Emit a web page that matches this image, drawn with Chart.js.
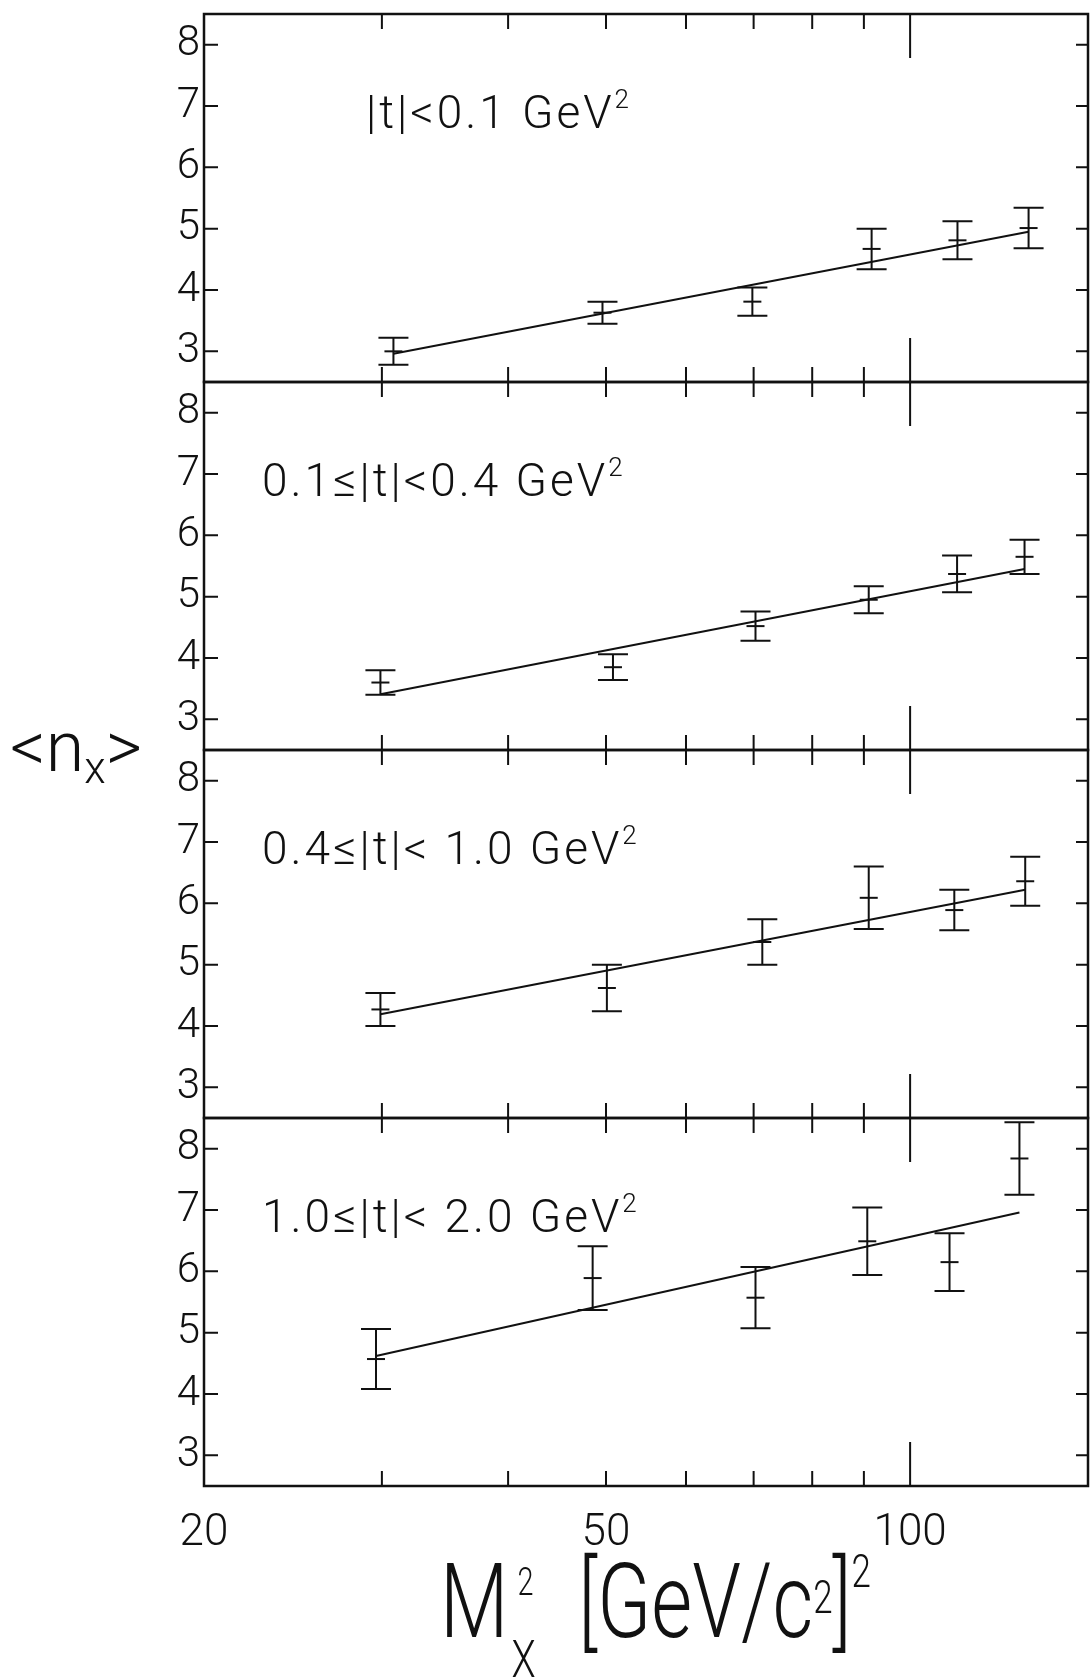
<!DOCTYPE html>
<html>
<head>
<meta charset="utf-8">
<script src="https://cdn.jsdelivr.net/npm/chart.js@4.4.0/dist/chart.umd.min.js"></script>
<style>
  body { margin: 0; background: #fff; }
  #page {
    position: relative;
    width: 1090px;
    height: 1679px;
    overflow: hidden;
    background: #fff;
    color: #111;
    font-family: Roboto, "DejaVu Sans", sans-serif;
    font-weight: 300;
  }
  .panel { position: absolute; left: 0; }
  .t-label {
    position: absolute;
    font-size: 46px;
    line-height: 46px;
    letter-spacing: 3px;
    white-space: nowrap;
  }
  .t-label .sq { position: relative; top: -20px; font-size: 26px; letter-spacing: 0; }
  #y-title {
    position: absolute;
    left: 10px;
    top: 712px;
    font-size: 70px;
    line-height: 70px;
    white-space: nowrap;
  }
  #y-title .sub { position: relative; top: 12px; font-size: 44px; }
  #x-title {
    position: absolute;
    left: 440px;
    top: 1550px;
    font-size: 104px;
    line-height: 104px;
    white-space: nowrap;
    transform: scaleX(0.76);
    transform-origin: left top;
  }
  #x-title .ms { display: inline-block; position: relative; width: 92px; height: 0; }
  #x-title .s2 { position: absolute; left: 12px; top: -74px; font-size: 38px; line-height: 38px; }
  #x-title .sx { position: absolute; left: 4px; top: -3px; font-size: 52px; line-height: 52px; }
  #x-title .c2 { position: relative; top: -24px; font-size: 46px; }
  #x-title .o2 { position: relative; top: -50px; font-size: 46px; }
</style>
</head>
<body>
<div id="page">
  <canvas id="panel-0" class="panel" width="1090" height="392"></canvas>
  <canvas id="panel-1" class="panel" width="1090" height="392"></canvas>
  <canvas id="panel-2" class="panel" width="1090" height="392"></canvas>
  <canvas id="panel-3" class="panel" width="1090" height="468"></canvas>
  <div id="y-title">&lt;n<span class="sub">x</span>&gt;</div>
  <div id="x-title">M<span class="ms"><span class="s2">2</span><span class="sx">X</span></span>[GeV/c<span class="c2">2</span>]<span class="o2">2</span></div>
</div>
<script>
// axis ranges and ticks (shared by all four |t| bins)
const xRange = [20, 150];
const yRange = [2.5, 8.5];
const yTickValues = [3, 4, 5, 6, 7, 8];
const xMinorTicks = [30, 40, 50, 60, 70, 80, 90];
const xMajorTicks = [100];
const xTickLabels = [20, 50, 100];

// |t| bin labels
const binLabels = ["|t|<0.1", "0.1≤|t|<0.4", "0.4≤|t|< 1.0", "1.0≤|t|< 2.0"];

// |t| < 0.1
const massT1 = [30.8, 49.6, 69.8, 91.6, 111.4, 131];
const multT1 = [3.0, 3.63, 3.81, 4.67, 4.81, 5.01];
const errT1 = [0.22, 0.18, 0.23, 0.33, 0.31, 0.33];
const fitT1 = [2.96, 4.95];

// 0.1 <= |t| < 0.4
const massT2 = [29.9, 50.8, 70.3, 91.0, 111.3, 129.8];
const multT2 = [3.6, 3.85, 4.52, 4.95, 5.37, 5.65];
const errT2 = [0.2, 0.21, 0.24, 0.22, 0.3, 0.28];
const fitT2 = [3.41, 5.45];

// 0.4 <= |t| < 1.0
const massT3 = [29.9, 50.1, 71.4, 91.0, 110.6, 130];
const multT3 = [4.27, 4.62, 5.37, 6.09, 5.89, 6.36];
const errT3 = [0.27, 0.38, 0.37, 0.51, 0.33, 0.4];
const fitT3 = [4.19, 6.22];

// 1.0 <= |t| < 2.0
const massT4 = [29.6, 48.5, 70.3, 90.7, 109.4, 128.3];
const multT4 = [4.57, 5.89, 5.57, 6.49, 6.15, 7.84];
const errT4 = [0.49, 0.52, 0.5, 0.55, 0.47, 0.59];
const fitT4 = [4.62, 6.96];

const panels = [
  { mass: massT1, mult: multT1, err: errT1, fit: fitT1, labelX: 366 },
  { mass: massT2, mult: multT2, err: errT2, fit: fitT2, labelX: 262 },
  { mass: massT3, mult: multT3, err: errT3, fit: fitT3, labelX: 262 },
  { mass: massT4, mult: multT4, err: errT4, fit: fitT4, labelX: 262 },
];

const INK = "#111";
const PANEL_TOP = 14;
const PANEL_H = 368;
const PAD = 12;

// frame, inward tick marks and error bars
const framePlugin = {
  id: "frame",
  afterDatasetsDraw(chart) {
    const { ctx, chartArea: a, scales } = chart;
    const x = scales.x;
    const y = scales.y;
    ctx.save();
    ctx.strokeStyle = INK;
    ctx.lineCap = "butt";

    // error bars
    const ds = chart.data.datasets[0];
    ctx.lineWidth = 2;
    ds.data.forEach((p, i) => {
      const px = x.getPixelForValue(p.x);
      const hi = y.getPixelForValue(p.y + ds.errors[i]);
      const lo = y.getPixelForValue(p.y - ds.errors[i]);
      ctx.beginPath();
      ctx.moveTo(px, hi);
      ctx.lineTo(px, lo);
      ctx.moveTo(px - 15, hi);
      ctx.lineTo(px + 15, hi);
      ctx.moveTo(px - 15, lo);
      ctx.lineTo(px + 15, lo);
      ctx.stroke();
    });

    // x ticks on top and bottom edges
    const xTick = (v, len) => {
      const px = x.getPixelForValue(v);
      ctx.beginPath();
      ctx.moveTo(px, a.top);
      ctx.lineTo(px, a.top + len);
      ctx.moveTo(px, a.bottom);
      ctx.lineTo(px, a.bottom - len);
      ctx.stroke();
    };
    xMinorTicks.forEach((v) => xTick(v, 15));
    xMajorTicks.forEach((v) => xTick(v, 44));

    // y ticks on left and right edges
    yTickValues.forEach((v) => {
      const py = y.getPixelForValue(v);
      ctx.beginPath();
      ctx.moveTo(a.left, py);
      ctx.lineTo(a.left + 14, py);
      ctx.moveTo(a.right, py);
      ctx.lineTo(a.right - 12, py);
      ctx.stroke();
    });

    // frame
    ctx.lineWidth = 2.5;
    ctx.strokeRect(a.left, a.top, a.right - a.left, a.bottom - a.top);
    ctx.restore();
  },
};

const setupPanel = (index) => {
  const panel = panels[index];
  const isLast = index === panels.length - 1;
  const canvas = document.getElementById("panel-" + index);
  canvas.style.top = PANEL_TOP + index * PANEL_H - PAD + "px";

  const points = panel.mass.map((m, i) => ({ x: m, y: panel.mult[i] }));
  const fitLine = [
    { x: panel.mass[0], y: panel.fit[0] },
    { x: panel.mass[panel.mass.length - 1], y: panel.fit[1] },
  ];

  const data = {
    datasets: [
      {
        label: "<n_x>",
        data: points,
        errors: panel.err,
        showLine: false,
        pointStyle: "line",
        pointRadius: 9,
        borderColor: INK,
        borderWidth: 2,
      },
      {
        label: "fit",
        data: fitLine,
        showLine: true,
        pointRadius: 0,
        borderColor: INK,
        borderWidth: 2,
      },
    ],
  };

  const config = {
    type: "scatter",
    data,
    options: {
      responsive: false,
      animation: false,
      events: [],
      layout: {
        autoPadding: false,
        padding: { top: PAD, right: 2, bottom: isLast ? 0 : PAD, left: 0 },
      },
      plugins: {
        legend: { display: false },
        tooltip: { enabled: false },
      },
      scales: {
        x: {
          type: "logarithmic",
          min: xRange[0],
          max: xRange[1],
          display: isLast,
          grid: { display: false, drawTicks: false },
          border: { display: false },
          afterBuildTicks: (scale) => {
            scale.ticks = xTickLabels.map((v) => ({ value: v }));
          },
          afterFit: (scale) => {
            if (isLast) scale.height = 88;
            scale.paddingLeft = 0;
            scale.paddingRight = 0;
          },
          ticks: {
            autoSkip: false,
            maxRotation: 0,
            padding: 22,
            color: INK,
            font: { family: "Roboto, 'DejaVu Sans', sans-serif", size: 44, weight: 300 },
            callback: (v) => String(v),
          },
        },
        y: {
          min: yRange[0],
          max: yRange[1],
          grid: { display: false, drawTicks: false },
          border: { display: false },
          afterBuildTicks: (scale) => {
            scale.ticks = yTickValues.map((v) => ({ value: v }));
          },
          afterFit: (scale) => {
            scale.width = 204;
            scale.paddingTop = 0;
            scale.paddingBottom = 0;
          },
          ticks: {
            padding: 4,
            color: INK,
            font: { family: "Roboto, 'DejaVu Sans', sans-serif", size: 42, weight: 300 },
          },
        },
      },
    },
    plugins: [framePlugin],
  };

  new Chart(canvas, config);

  // bin label
  const label = document.createElement("div");
  label.className = "t-label";
  label.style.left = panel.labelX + "px";
  label.style.top = PANEL_TOP + index * PANEL_H + 75 + "px";
  label.innerHTML = binLabels[index].replace(/</g, "&lt;") + ' GeV<span class="sq">2</span>';
  document.getElementById("page").appendChild(label);
};

panels.forEach((p, i) => setupPanel(i));
</script>
</body>
</html>
